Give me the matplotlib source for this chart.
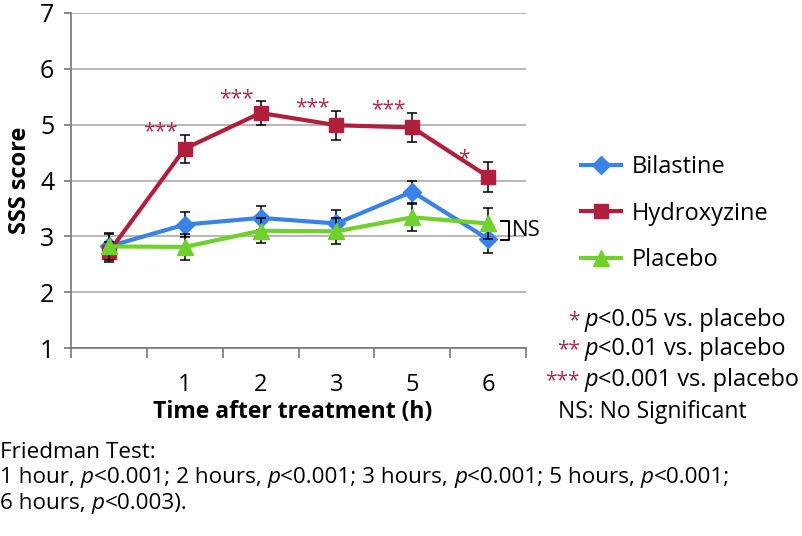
import matplotlib
matplotlib.use("Agg")
import matplotlib.pyplot as plt
from matplotlib.lines import Line2D
import numpy as np

plt.rcParams['font.family'] = ['Open Sans', 'DejaVu Sans']

# data
time_labels = ['', '1', '2', '3', '5', '6']
bilastine = [2.82, 3.21, 3.33, 3.23, 3.80, 2.95]
bilastine_err = [0.22, 0.22, 0.22, 0.24, 0.20, 0.25]
hydroxyzine = [2.72, 4.57, 5.21, 4.99, 4.95, 4.07]
hydroxyzine_err = [0.18, 0.25, 0.21, 0.26, 0.26, 0.27]
placebo = [2.82, 2.81, 3.10, 3.09, 3.34, 3.23]
placebo_err = [0.24, 0.24, 0.22, 0.23, 0.24, 0.28]
stars = ['', '***', '***', '***', '***', '*']

c_bil = '#3b82e6'
c_hyd = '#b0203c'
c_pla = '#6fd12a'
c_star = '#b0284a'

W, H = 802, 536
fig = plt.figure(figsize=(W / 100, H / 100), dpi=100)


def px(x, y):
    return x / W, 1 - y / H


ax = fig.add_axes([71 / W, 1 - 348 / H, (526 - 71) / W, (348 - 13) / H])
x = np.arange(len(time_labels))

series = [
    ('Bilastine', bilastine, bilastine_err, c_bil, 'D', 9),
    ('Hydroxyzine', hydroxyzine, hydroxyzine_err, c_hyd, 's', 10),
    ('Placebo', placebo, placebo_err, c_pla, '^', 11),
]
handles = []
for i, (name, vals, err, col, mk, ms) in enumerate(series):
    ax.errorbar(x, vals, yerr=err, fmt='none', ecolor='black', elinewidth=1.1,
                capsize=3.5, capthick=1.1, zorder=3 + i)
    ax.plot(x, vals, color=col, lw=3, marker=mk, ms=ms, zorder=3.5 + i)
    handles.append(Line2D([], [], color=col, lw=3, marker=mk, ms=ms, label=name))

# significance stars
for i, s in enumerate(stars):
    if s:
        ax.text(x[i] - 0.32, hydroxyzine[i] + hydroxyzine_err[i] + 0.05, s,
                ha='center', va='center', color=c_star, fontsize=15)

# NS bracket
bx0, bx1 = 5.17, 5.28
ax.plot([bx0, bx1, bx1, bx0], [3.27, 3.27, 2.93, 2.93], color='black', lw=1.4,
        clip_on=False, zorder=6)
ax.text(5.31, 3.1, 'NS', ha='left', va='center', fontsize=16, clip_on=False)

ax.set_xlim(-0.5, 5.5)
ax.set_ylim(1, 7)
ax.set_yticks(range(1, 8))
ax.set_xticks(x)
ax.set_xticklabels(time_labels)
ax.set_xticks(np.arange(-0.5, 6, 1), minor=True)
ax.tick_params(axis='x', which='major', length=0, pad=18, labelsize=17)
ax.tick_params(axis='x', which='minor', length=7, width=1.2, color='#777777')
ax.tick_params(axis='y', length=5, width=1.2, color='#777777', labelsize=18, pad=7)
ax.yaxis.grid(True, color='#aaaaaa', lw=1.2)
ax.set_axisbelow(True)
for sp in ['top', 'right']:
    ax.spines[sp].set_visible(False)
for sp in ['left', 'bottom']:
    ax.spines[sp].set_color('#777777')
    ax.spines[sp].set_linewidth(1.2)

fig.text(*px(293, 412), 'Time after treatment (h)', ha='center', va='center',
         fontsize=16.5, fontweight='bold')
fig.text(*px(20, 180), 'SSS score', ha='center', va='center', rotation=90,
         fontsize=17, fontweight='bold')

fig.legend(handles=handles, loc='upper left', bbox_to_anchor=px(560, 134),
           frameon=False, fontsize=17, handlelength=1.7, labelspacing=0.95,
           handletextpad=0.45)


def chain(x0, y0, parts, fontsize, family=None):
    # write pieces one after another, each placed right of the previous one
    kw = dict(fontsize=fontsize)
    if family:
        kw['family'] = family
    prev = None
    for s, style in parts:
        if prev is None:
            prev = fig.text(*px(x0, y0), s, ha='left', va='center', style=style, **kw)
        else:
            prev = ax.annotate(s, xy=(1, 0), xycoords=prev, va='bottom', ha='left',
                               style=style, annotation_clip=False, **kw)
    return prev


# p-value key
key = [('*', 320, '0.05'), ('**', 349, '0.01'), ('***', 380, '0.001')]
for st, yy, pv in key:
    fig.text(*px(580, yy + 1), st, ha='right', va='center', color=c_star, fontsize=15)
    chain(584, yy, [('p', 'italic'), ('<' + pv + ' vs. placebo', 'normal')], 16.9)
fig.text(*px(558, 412), 'NS: No Significant', ha='left', va='center', fontsize=16.5)

fig.text(*px(0, 452), 'Friedman Test:', ha='left', va='center', fontsize=16.2)
chain(0, 478, [('1 hour, ', 'normal'), ('p', 'italic'), ('<0.001; 2 hours, ', 'normal'),
               ('p', 'italic'), ('<0.001; 3 hours, ', 'normal'), ('p', 'italic'),
               ('<0.001; 5 hours, ', 'normal'), ('p', 'italic'), ('<0.001;', 'normal')],
      16.2)
chain(0, 503, [('6 hours, ', 'normal'), ('p', 'italic'), ('<0.003).', 'normal')], 16.2)

fig.savefig('out.png', dpi=100)
